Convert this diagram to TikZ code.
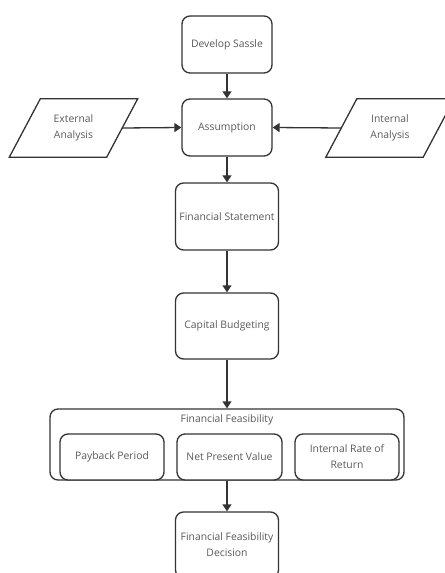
\documentclass[tikz,border=0pt]{standalone}
\usepackage{fontspec}
\setmainfont{Open Sans}
\usetikzlibrary{arrows.meta}
\definecolor{ink}{HTML}{333333}
\definecolor{txt}{HTML}{5A5A5A}
\tikzset{
  base/.style={draw=ink, line width=1.3bp, fill=white, text=txt, inner sep=0pt,
    align=center, font=\fontsize{10.4}{16}\selectfont},
  rbox/.style={base, rectangle, rounded corners=8bp},
  pbox/.style={rectangle, inner sep=0pt, align=center, text=txt,
    font=\fontsize{10.4}{16}\selectfont, minimum width=97bp, minimum height=58bp},
  link/.style={draw=ink, line width=1.3bp, -{Triangle[length=7bp,width=9bp]}},
  outline/.style={draw=ink, line width=1.3bp}
}
\begin{document}
\begin{tikzpicture}[x=1bp,y=-1bp]
\useasboundingbox (0,0) rectangle (445,573);
\clip (0,0) rectangle (445,573);
% main chain
\node[rbox, minimum width=90bp, minimum height=57bp] (dev) at (227,44.5) {Develop Sassle};
\node[rbox, minimum width=90bp, minimum height=57bp] (ass) at (227,127.5) {Assumption};
\node[rbox, minimum width=103bp, minimum height=67bp] (fs) at (227,216.5) {Financial Statement};
\node[rbox, minimum width=103bp, minimum height=66bp] (cb) at (227,326) {Capital Budgeting};
% container
\node[rbox, minimum width=354bp, minimum height=71bp] (ff) at (227,444.5) {};
\node[text=txt, inner sep=0pt, font=\fontsize{10.4}{16}\selectfont] (fft) at (227,420) {Financial Feasibility};
\node[rbox, minimum width=104bp, minimum height=46bp] (pp) at (112,457) {Payback Period};
\node[rbox, minimum width=105bp, minimum height=46bp] (npv) at (229.5,457) {Net Present Value};
\node[rbox, minimum width=104bp, minimum height=46bp] (irr) at (347,457) {Internal Rate of\\Return};
\node[rbox, minimum width=103bp, minimum height=66bp] (dec) at (227,545) {Financial Feasibility\\Decision};
% parallelograms
\node[pbox] (ext) at (73.5,128) {External\\Analysis};
\draw[outline] ([xshift=-15.5bp]ext.south west) -- ([xshift=15.5bp]ext.north west)
  -- ([xshift=15.5bp]ext.north east) -- ([xshift=-15.5bp]ext.south east) -- cycle;
\node[pbox] (int) at (390,128) {Internal\\Analysis};
\draw[outline] ([xshift=-15.5bp]int.south west) -- ([xshift=15.5bp]int.north west)
  -- ([xshift=15.5bp]int.north east) -- ([xshift=-15.5bp]int.south east) -- cycle;
% connectors
\draw[link] (dev) -- (ass);
\draw[link] (ext.east) -- (ass.west);
\draw[link] (int.west) -- (ass.east);
\draw[link] (ass) -- (fs);
\draw[link] (fs) -- (cb);
\draw[link] (cb) -- (ff);
\draw[link] (ff) -- (dec);
\end{tikzpicture}
\end{document}
